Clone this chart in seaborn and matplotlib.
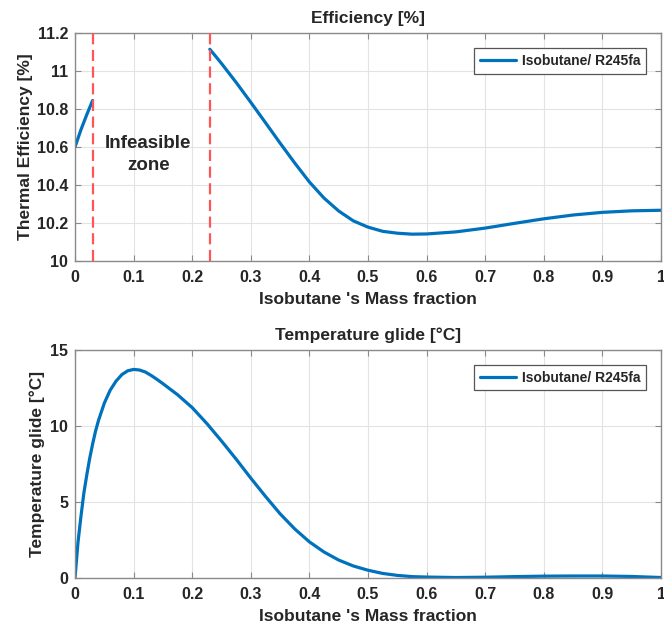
import matplotlib
matplotlib.use("Agg")
import matplotlib.pyplot as plt
import seaborn as sns
import pandas as pd

# ---- data ----
eff_x1 = [0.0, 0.01, 0.02, 0.03]
eff_y1 = [10.60, 10.69, 10.77, 10.845]
eff_x2 = [0.23, 0.24, 0.25, 0.275, 0.30, 0.325, 0.35, 0.375, 0.40, 0.425, 0.45, 0.475,
          0.50, 0.525, 0.55, 0.575, 0.60, 0.65, 0.70, 0.75, 0.80, 0.85, 0.90, 0.95, 1.00]
eff_y2 = [11.115, 11.078, 11.04, 10.94, 10.835, 10.728, 10.62, 10.515, 10.415, 10.33, 10.262, 10.21,
          10.177, 10.155, 10.145, 10.14, 10.141, 10.152, 10.172, 10.197, 10.221, 10.241, 10.255, 10.263, 10.266]
infeasible_bounds = [0.03, 0.23]

glide_x = [0.0, 0.005, 0.01, 0.015, 0.02, 0.025, 0.03, 0.035, 0.04, 0.05, 0.06, 0.07, 0.08, 0.09,
           0.10, 0.11, 0.12, 0.13, 0.14, 0.15, 0.175, 0.20, 0.225, 0.25, 0.275, 0.30, 0.325,
           0.35, 0.375, 0.40, 0.425, 0.45, 0.475, 0.50, 0.525, 0.55, 0.575, 0.60,
           0.65, 0.70, 0.75, 0.80, 0.85, 0.90, 0.95, 1.00]
glide_y = [0.0, 2.3, 4.0, 5.55, 6.75, 7.85, 8.8, 9.65, 10.35, 11.5, 12.35, 12.95, 13.38, 13.63,
           13.72, 13.68, 13.55, 13.32, 13.06, 12.78, 12.05, 11.2, 10.15, 9.0, 7.8, 6.55, 5.35,
           4.2, 3.2, 2.35, 1.68, 1.15, 0.76, 0.48, 0.27, 0.14, 0.06, 0.03,
           0.0, 0.02, 0.06, 0.09, 0.10, 0.10, 0.07, 0.0]

series_label = "Isobutane/ R245fa"
xticks = [0, 0.1, 0.2, 0.3, 0.4, 0.5, 0.6, 0.7, 0.8, 0.9, 1]
xtick_labels = ["0", "0.1", "0.2", "0.3", "0.4", "0.5", "0.6", "0.7", "0.8", "0.9", "1"]
eff_yticks = [10, 10.2, 10.4, 10.6, 10.8, 11, 11.2]
eff_ytick_labels = ["10", "10.2", "10.4", "10.6", "10.8", "11", "11.2"]
glide_yticks = [0, 5, 10, 15]

sns.set_theme(style="whitegrid")
plt.rcParams["font.family"] = ["Liberation Sans", "DejaVu Sans"]
plt.rcParams["font.weight"] = "bold"

BLUE = "#0072BD"
RED = "#FF5555"
TXT = "#262626"
SPINE = "#8a8a8a"
LBL = 12.5
TCK = 11.5

fig = plt.figure(figsize=(6.64, 6.32), dpi=100)
ax1 = fig.add_axes([0.113, 0.5875, 0.8825, 0.36])
ax2 = fig.add_axes([0.113, 0.0862, 0.8825, 0.36])

df1 = pd.DataFrame({"x": eff_x1, "y": eff_y1})
df2 = pd.DataFrame({"x": eff_x2, "y": eff_y2})
dfg = pd.DataFrame({"x": glide_x, "y": glide_y})

sns.lineplot(data=df1, x="x", y="y", ax=ax1, color=BLUE, lw=2.3, legend=False)
sns.lineplot(data=df2, x="x", y="y", ax=ax1, color=BLUE, lw=2.3, label=series_label)
for xb in infeasible_bounds:
    ax1.plot([xb, xb], [10.0, 11.2], color=RED, lw=1.6, ls=(0, (5, 2.5)), zorder=3)
ax1.text(0.125, 10.56, "Infeasible\nzone", ha="center", va="center",
         fontsize=13.5, fontweight="bold", color=TXT, linespacing=1.45)

sns.lineplot(data=dfg, x="x", y="y", ax=ax2, color=BLUE, lw=2.3, label=series_label)

ax1.set_xlim(0, 1)
ax1.set_ylim(10, 11.2)
ax1.set_yticks(eff_yticks)
ax1.set_yticklabels(eff_ytick_labels)
ax2.set_xlim(0, 1)
ax2.set_ylim(0, 15)
ax2.set_yticks(glide_yticks)

ax1.set_title("Efficiency [%]", fontsize=LBL, fontweight="bold", color=TXT, pad=7)
ax2.set_title("Temperature glide [°C]", fontsize=LBL, fontweight="bold", color=TXT, pad=7)
ax1.set_ylabel("Thermal Efficiency [%]", fontsize=LBL, fontweight="bold", color=TXT, labelpad=3)
ax2.set_ylabel("Temperature glide [°C]", fontsize=LBL, fontweight="bold", color=TXT, labelpad=3.5)

for ax in (ax1, ax2):
    ax.set_xticks(xticks)
    ax.set_xticklabels(xtick_labels)
    ax.set_xlabel("Isobutane 's Mass fraction", fontsize=LBL, fontweight="bold", color=TXT, labelpad=5)
    ax.set_facecolor("white")
    ax.grid(True, color="#e3e3e3", lw=0.8)
    for s in ax.spines.values():
        s.set_visible(True)
        s.set_color(SPINE)
        s.set_linewidth(1.0)
    ax.tick_params(axis="both", which="both", direction="in", length=4, width=0.8,
                   color=SPINE, labelsize=TCK, labelcolor=TXT, top=True, right=True,
                   bottom=True, left=True, pad=5)
    ax.tick_params(axis="x", pad=7)
    for lab in ax.get_xticklabels() + ax.get_yticklabels():
        lab.set_fontweight("bold")
    leg = ax.legend(loc="upper right", frameon=True, fancybox=False,
                    handlelength=2.6, borderaxespad=1.1, borderpad=0.4,
                    handletextpad=0.4, prop={"weight": "bold", "size": 10})
    leg.get_frame().set_edgecolor("#555555")
    leg.get_frame().set_linewidth(0.9)
    leg.get_frame().set_alpha(1.0)
    for t in leg.get_texts():
        t.set_color(TXT)

fig.savefig("out.png", dpi=100, facecolor="white")
